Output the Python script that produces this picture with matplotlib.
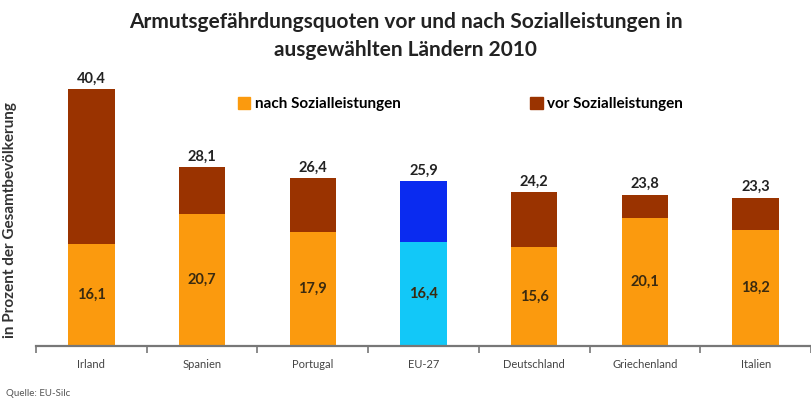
import matplotlib
matplotlib.use("Agg")
import matplotlib.pyplot as plt
import numpy as np
from matplotlib.patches import Patch

plt.rcParams['font.family'] = ['Lato', 'DejaVu Sans']

countries = ["Irland", "Spanien", "Portugal", "EU-27", "Deutschland", "Griechenland", "Italien"]
vor = [40.4, 28.1, 26.4, 25.9, 24.2, 23.8, 23.3]
nach = [16.1, 20.7, 17.9, 16.4, 15.6, 20.1, 18.2]

orange = "#FB9A0E"
brown = "#9A3300"
light_blue = "#12C8F8"
dark_blue = "#0A2BF0"
highlight = "EU-27"

fig = plt.figure(figsize=(8.11, 4.05), dpi=100)
ax = fig.add_axes([36 / 811, 59 / 405, 775 / 811, 286 / 405])

x = np.arange(len(countries))
diff = [v - n for v, n in zip(vor, nach)]
bottom_colors = [light_blue if c == highlight else orange for c in countries]
top_colors = [dark_blue if c == highlight else brown for c in countries]

ax.bar(x, nach, width=0.42, color=bottom_colors)
ax.bar(x, diff, bottom=nach, width=0.42, color=top_colors)

# value labels
for i in range(len(countries)):
    ax.text(x[i], vor[i] + 0.6, f"{vor[i]:.1f}".replace(".", ","),
            ha="center", va="bottom", fontsize=10.5, fontweight="bold", color="#222222")
    ax.text(x[i], nach[i] / 2, f"{nach[i]:.1f}".replace(".", ","),
            ha="center", va="center", fontsize=10.5, fontweight="bold", color="#3a2a10")

ax.set_xlim(-0.5, 6.42)
ax.set_ylim(0, 45)

for s in ["top", "right", "left"]:
    ax.spines[s].set_visible(False)
ax.spines["bottom"].set_color("#777777")
ax.spines["bottom"].set_linewidth(1.6)
ax.set_yticks([])

# ticks at category boundaries, labels centred
ax.set_xticks(np.arange(-0.5, len(countries), 1.0))
ax.set_xticklabels([])
ax.tick_params(axis="x", which="major", length=5, width=1.2, color="#777777")
ax.set_xticks(x, minor=True)
ax.set_xticklabels(countries, minor=True, fontsize=8, color="#444444")
ax.tick_params(axis="x", which="minor", length=0, pad=9)

ax.set_ylabel("in Prozent der Gesamtbevölkerung", fontsize=11, fontweight="bold",
              color="#333333")
ax.yaxis.set_label_coords(-0.025, 0.44)

handles = [Patch(color=orange, label="nach Sozialleistungen"),
           Patch(color=brown, label="vor Sozialleistungen")]
fig.legend(handles=handles, loc="center left", bbox_to_anchor=(224 / 811, 1 - 104 / 405),
           ncol=2, frameon=False, handlelength=0.8, handleheight=0.8,
           handletextpad=0.3, columnspacing=8.5, prop={"weight": "bold", "size": 11})

fig.text(0.5, 1 - 22 / 405, "Armutsgefährdungsquoten vor und nach Sozialleistungen in",
         ha="center", va="center", fontsize=15, fontweight="bold", color="#222222")
fig.text(0.5, 1 - 50 / 405, "ausgewählten Ländern 2010",
         ha="center", va="center", fontsize=15, fontweight="bold", color="#222222")

fig.text(6 / 811, 1 - 393 / 405, "Quelle: EU-Silc", ha="left", va="center",
         fontsize=7, color="#555555")

fig.savefig("out.png", dpi=100)
